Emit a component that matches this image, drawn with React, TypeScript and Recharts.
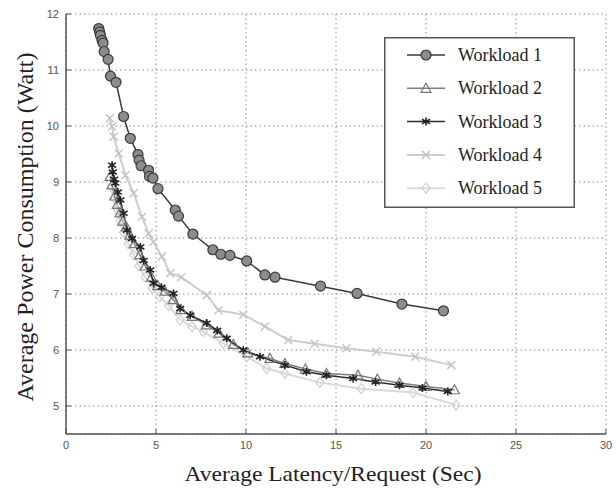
import { LineChart, Line, XAxis, YAxis, CartesianGrid, Legend } from "recharts"

const xTicks = [0, 5, 10, 15, 20, 25, 30]
const yTicks = [5, 6, 7, 8, 9, 10, 11, 12]
const names = ["Workload 1", "Workload 2", "Workload 3", "Workload 4", "Workload 5"]

const w1X = [1.82, 1.87, 1.91, 2.0, 2.06, 2.12, 2.34, 2.47, 2.78, 3.2, 3.57, 4.0, 4.06, 4.17, 4.59, 4.64, 4.83, 5.11, 6.07, 6.25, 7.05, 8.16, 8.6, 9.11, 10.04, 11.05, 11.61, 14.14, 16.17, 18.66, 20.97]
const w1Y = [11.74, 11.68, 11.62, 11.53, 11.48, 11.33, 11.19, 10.89, 10.78, 10.17, 9.78, 9.49, 9.39, 9.29, 9.21, 9.1, 9.07, 8.88, 8.5, 8.39, 8.07, 7.79, 7.71, 7.69, 7.59, 7.34, 7.3, 7.14, 7.01, 6.82, 6.7]

const w2X = [2.45, 2.55, 2.7, 2.85, 3.0, 3.15, 3.35, 3.55, 3.8, 4.1, 4.4, 4.75, 5.1, 5.5, 5.95, 6.4, 7.0, 7.8, 8.5, 9.3, 10.1, 11.33, 12.16, 13.3, 14.47, 16.22, 17.3, 18.53, 20.0, 21.58]
const w2Y = [9.1, 8.95, 8.75, 8.6, 8.45, 8.3, 8.2, 8.05, 7.9, 7.7, 7.5, 7.3, 7.15, 7.05, 6.9, 6.72, 6.6, 6.45, 6.3, 6.1, 5.95, 5.85, 5.76, 5.66, 5.58, 5.55, 5.48, 5.41, 5.35, 5.29]

const w3X = [2.56, 2.6, 2.68, 2.74, 2.88, 3.02, 3.2, 3.39, 3.67, 4.13, 4.31, 4.68, 4.86, 5.3, 5.97, 6.34, 6.9, 7.82, 8.4, 8.93, 9.85, 10.78, 12.16, 13.36, 14.47, 15.95, 17.2, 18.53, 19.8, 21.21]
const w3Y = [9.3, 9.18, 9.05, 8.98, 8.82, 8.68, 8.44, 8.14, 7.99, 7.84, 7.6, 7.43, 7.19, 7.12, 7.01, 6.74, 6.62, 6.48, 6.35, 6.21, 6.0, 5.88, 5.73, 5.61, 5.55, 5.49, 5.43, 5.37, 5.32, 5.26]

const w4X = [2.43, 2.56, 2.65, 2.93, 3.3, 3.76, 4.22, 4.59, 4.86, 5.33, 5.79, 6.4, 7.82, 8.47, 9.85, 11.05, 12.34, 13.82, 15.58, 17.24, 19.4, 21.4]
const w4Y = [10.14, 9.99, 9.81, 9.51, 9.12, 8.8, 8.38, 8.08, 7.93, 7.67, 7.37, 7.3, 6.98, 6.71, 6.63, 6.42, 6.18, 6.11, 6.03, 5.97, 5.88, 5.73]

const w5X = [2.55, 2.7, 2.85, 3.0, 3.2, 3.45, 3.75, 4.05, 4.4, 4.8, 5.2, 5.7, 6.34, 7.0, 7.63, 8.74, 10.04, 11.15, 12.16, 14.1, 16.4, 19.27, 21.67]
const w5Y = [8.9, 8.7, 8.5, 8.3, 8.1, 7.9, 7.7, 7.5, 7.3, 7.1, 6.95, 6.8, 6.54, 6.42, 6.33, 6.12, 5.88, 5.67, 5.58, 5.42, 5.31, 5.24, 5.02]

const zip = (xs: number[], ys: number[]) => xs.map((x, i) => ({ x, y: ys[i] }))

const serif = "'Liberation Serif', 'Times New Roman', serif"
const sans = "'Liberation Sans', Arial, sans-serif"

type MarkerKind = "circle" | "triangle" | "star" | "cross" | "diamond"

const styles: { kind: MarkerKind; line: string; mark: string; fill: string; width: number }[] = [
  { kind: "circle", line: "#3a3a3a", mark: "#3a3a3a", fill: "#8c8c8c", width: 1.5 },
  { kind: "triangle", line: "#7e7e7e", mark: "#777", fill: "none", width: 1.5 },
  { kind: "star", line: "#2a2a2a", mark: "#222", fill: "none", width: 1.5 },
  { kind: "cross", line: "#cdcdcd", mark: "#c4c4c4", fill: "none", width: 2 },
  { kind: "diamond", line: "#dadada", mark: "#d2d2d2", fill: "none", width: 2 },
]

function Marker({ kind, cx, cy, stroke, fill }: { kind: MarkerKind; cx: number; cy: number; stroke: string; fill: string }) {
  if (kind === "circle") return <circle cx={cx} cy={cy} r={5} fill={fill} stroke={stroke} strokeWidth={1.2} />
  if (kind === "triangle")
    return <polygon points={`${cx},${cy - 5} ${cx - 5},${cy + 4} ${cx + 5},${cy + 4}`} fill="none" stroke={stroke} strokeWidth={1.2} />
  if (kind === "diamond")
    return <polygon points={`${cx},${cy - 5} ${cx + 4},${cy} ${cx},${cy + 5} ${cx - 4},${cy}`} fill="none" stroke={stroke} strokeWidth={1.3} />
  if (kind === "cross")
    return (
      <path d={`M${cx - 4},${cy - 4}L${cx + 4},${cy + 4}M${cx - 4},${cy + 4}L${cx + 4},${cy - 4}`} stroke={stroke} strokeWidth={1.5} />
    )
  return (
    <path
      d={`M${cx},${cy - 4}L${cx},${cy + 4}M${cx - 4},${cy - 2.3}L${cx + 4},${cy + 2.3}M${cx - 4},${cy + 2.3}L${cx + 4},${cy - 2.3}`}
      stroke={stroke}
      strokeWidth={1.6}
    />
  )
}

const makeDot = (idx: number) => (props: any) => {
  const s = styles[idx]
  return (
    <g key={`d${idx}-${props.index}`}>
      <Marker kind={s.kind} cx={props.cx} cy={props.cy} stroke={s.mark} fill={s.fill} />
    </g>
  )
}

function XTick({ x, y, payload }: any) {
  const axisY = y - 8
  return (
    <g>
      <line x1={x} y1={axisY} x2={x} y2={axisY - 5} stroke="#555" />
      <text x={x} y={y + 7} textAnchor="middle" fontSize={11} fontFamily={sans} fill="#555">
        {payload.value}
      </text>
    </g>
  )
}

function YTick({ x, y, payload }: any) {
  const axisX = x + 7
  return (
    <g>
      <line x1={axisX} y1={y} x2={axisX + 5} y2={y} stroke="#555" />
      <text x={x} y={y + 4} textAnchor="end" fontSize={11} fontFamily={sans} fill="#555">
        {payload.value}
      </text>
    </g>
  )
}

function TopTick({ x, y }: any) {
  return <line x1={x} y1={y} x2={x} y2={y + 5} stroke="#555" />
}

function RightTick({ x, y }: any) {
  return <line x1={x} y1={y} x2={x - 5} y2={y} stroke="#555" />
}

function XTitle({ viewBox }: any) {
  return (
    <text
      x={viewBox.x + viewBox.width / 2 - 3}
      y={viewBox.y + viewBox.height - 7}
      textAnchor="middle"
      fontSize={22}
      fontFamily={serif}
      fill="#222"
      textLength={297}
      lengthAdjust="spacingAndGlyphs"
    >
      Average Latency/Request (Sec)
    </text>
  )
}

function YTitle({ viewBox }: any) {
  const cx = viewBox.x + 33
  const cy = 227
  return (
    <text
      x={cx}
      y={cy}
      transform={`rotate(-90 ${cx} ${cy})`}
      textAnchor="middle"
      fontSize={23}
      fontFamily={serif}
      fill="#222"
      textLength={349}
      lengthAdjust="spacingAndGlyphs"
    >
      Average Power Consumption (Watt)
    </text>
  )
}

function LegendBox() {
  return (
    <svg width={191} height={171} style={{ display: "block" }}>
      <rect x={0.75} y={0.75} width={189.5} height={169.5} fill="#fff" stroke="#555" strokeWidth={1.5} />
      {names.map((n, i) => {
        const s = styles[i]
        const cy = 18 + i * 33.3
        return (
          <g key={n}>
            <line x1={23} y1={cy} x2={61} y2={cy} stroke={s.line} strokeWidth={s.width} />
            <Marker kind={s.kind} cx={42} cy={cy} stroke={s.mark} fill={s.fill} />
            <text x={74} y={cy + 6} fontSize={18} fontFamily={serif} fill="#222">
              {n}
            </text>
          </g>
        )
      })}
    </svg>
  )
}

const series = [zip(w1X, w1Y), zip(w2X, w2Y), zip(w3X, w3Y), zip(w4X, w4Y), zip(w5X, w5Y)]
const drawOrder = [4, 3, 1, 2, 0]

export default function App() {
  return (
    <div style={{ position: "absolute", left: 0, top: 0, width: 616, height: 488, background: "#fff" }}>
      <LineChart width={616} height={488} margin={{ top: 14, right: 10, bottom: 0, left: 0 }}>
        <CartesianGrid stroke="#8a8a8a" strokeDasharray="1.5 3" />
        <XAxis
          type="number"
          dataKey="x"
          domain={[0, 30]}
          ticks={xTicks}
          height={54}
          tickSize={0}
          tickMargin={8}
          tick={<XTick />}
          axisLine={{ stroke: "#555", strokeWidth: 1.5 }}
          tickLine={false}
          label={<XTitle />}
          allowDataOverflow
        />
        <XAxis
          xAxisId="top"
          orientation="top"
          type="number"
          dataKey="x"
          domain={[0, 30]}
          ticks={xTicks}
          height={0}
          tickSize={0}
          tick={<TopTick />}
          axisLine={{ stroke: "#555", strokeWidth: 1.5 }}
          tickLine={false}
        />
        <YAxis
          type="number"
          domain={[4.5, 12]}
          ticks={yTicks}
          width={66}
          tickSize={0}
          tickMargin={7}
          tick={<YTick />}
          axisLine={{ stroke: "#555", strokeWidth: 1.5 }}
          tickLine={false}
          label={<YTitle />}
          allowDataOverflow
        />
        <YAxis
          yAxisId="right"
          orientation="right"
          type="number"
          domain={[4.5, 12]}
          ticks={yTicks}
          width={0}
          tickSize={0}
          tick={<RightTick />}
          axisLine={{ stroke: "#555", strokeWidth: 1.5 }}
          tickLine={false}
        />
        <Legend
          layout="horizontal"
          verticalAlign="middle"
          align="center"
          content={<LegendBox />}
          wrapperStyle={{ position: "absolute", left: 384, top: 37, width: 191, height: 171 }}
        />
        {drawOrder.map((i) => (
          <Line
            key={names[i]}
            name={names[i]}
            data={series[i]}
            dataKey="y"
            type="linear"
            stroke={styles[i].line}
            strokeWidth={styles[i].width}
            dot={makeDot(i)}
            activeDot={false}
            isAnimationActive={false}
          />
        ))}
      </LineChart>
    </div>
  )
}
